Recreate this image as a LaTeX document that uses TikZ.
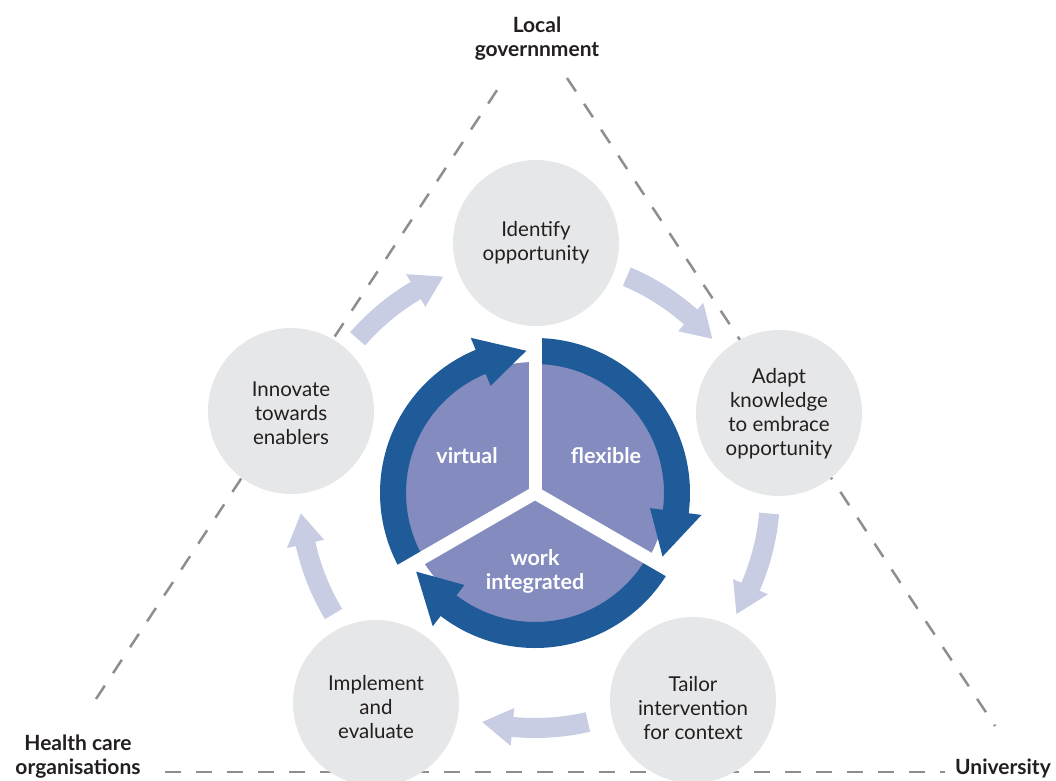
\documentclass[tikz,border=0pt]{standalone}
\usepackage{fontspec}
\setmainfont{Lato}
\definecolor{stagegray}{HTML}{E6E7E8}
\definecolor{flowlight}{HTML}{C8CDE3}
\definecolor{piepurple}{HTML}{848BBF}
\definecolor{ringblue}{HTML}{1F5B99}
\definecolor{inktext}{HTML}{231F20}
\definecolor{dashgray}{HTML}{8E8E8E}
\tikzset{
  stage/.style={circle, fill=stagegray, minimum size=166pt, inner sep=0pt},
  stagetext/.style={align=center, text=inktext, font=\fontsize{20.5}{24}\selectfont},
  cornertext/.style={align=center, text=inktext, font=\bfseries\fontsize{21}{24}\selectfont},
  pietext/.style={align=center, text=white, font=\bfseries\fontsize{21.5}{24}\selectfont},
  sideline/.style={draw=dashgray, line width=2.5pt, dash pattern=on 16pt off 15pt},
}
\begin{document}
\begin{tikzpicture}[x=1pt,y=1pt]
\useasboundingbox (0,0) rectangle (1056,780);

% corners of the dashed triangle
\coordinate (topL) at (505,702);
\coordinate (topR) at (567,702);
\coordinate (botL) at (96,81);
\coordinate (botR) at (995,54);
\coordinate (baseL) at (165,8);
\coordinate (baseR) at (945,8);
\draw[sideline] (botL) -- (topL);
\draw[sideline] (topR) -- (botR);
\draw[sideline] (baseL) -- (baseR);

% the five stages
\node[stage] (ident) at (536,537) {};
\node[stage] (adapt) at (779,367) {};
\node[stage] (tailor) at (693,80) {};
\node[stage] (implement) at (376,77) {};
\node[stage] (innovate) at (291,369) {};

% light arrows running round the cycle
\begin{scope}[shift={(535,287)}]
  \foreach \m in {54,-18,-90,-162,-234}{
    \fill[flowlight]
      (\m+13:245) arc[start angle=\m+13, end angle=\m-5.5, radius=245]
      -- (\m-5.5:254) -- (\m-13:235) -- (\m-5.5:216) -- (\m-5.5:225)
      arc[start angle=\m-5.5, end angle=\m+13, radius=225] -- cycle;
  }

  % central disc
  \fill[piepurple] (0,0) circle[radius=131];

  % blue ring in three arrowed parts
  \foreach \a/\t in {90/-26.5, 330/213.5, 210/93.5}{
    \pgfmathsetmacro{\b}{\t+19}
    \fill[ringblue]
      (\a:155) arc[start angle=\a, end angle=\b, radius=155]
      -- (\b:168) -- (\t:142.5) -- (\b:116) -- (\b:129)
      arc[start angle=\b, end angle=\a, radius=129] -- cycle;
  }

  % white gaps between the three parts
  \foreach \s in {90,210,330}{
    \draw[white, line width=13pt] (0,0) -- (\s:160);
  }
\end{scope}

% stage texts
\node[stagetext] (identT) at (536,537) {Identify\\opportunity};
\node[stagetext] (adaptT) at (779,366) {Adapt\\knowledge\\to embrace\\opportunity};
\node[stagetext] (tailorT) at (693,72) {Tailor\\intervention\\for context};
\node[stagetext] (implementT) at (376,73) {Implement\\and\\evaluate};
\node[stagetext] (innovateT) at (291,367) {Innovate\\towards\\enablers};

% centre texts
\node[pietext] (virtual) at (467,324) {virtual};
\node[pietext] (flexible) at (606,324) {flexible};
\node[pietext] (workint) at (535,209) {work\\integrated};

% corner texts
\node[cornertext] (localgov) at (537,741) {Local\\governnment};
\node[cornertext] (health) at (78,23) {Health care\\organisations};
\node[cornertext] (uni) at (1003,12) {University};
\end{tikzpicture}
\end{document}
